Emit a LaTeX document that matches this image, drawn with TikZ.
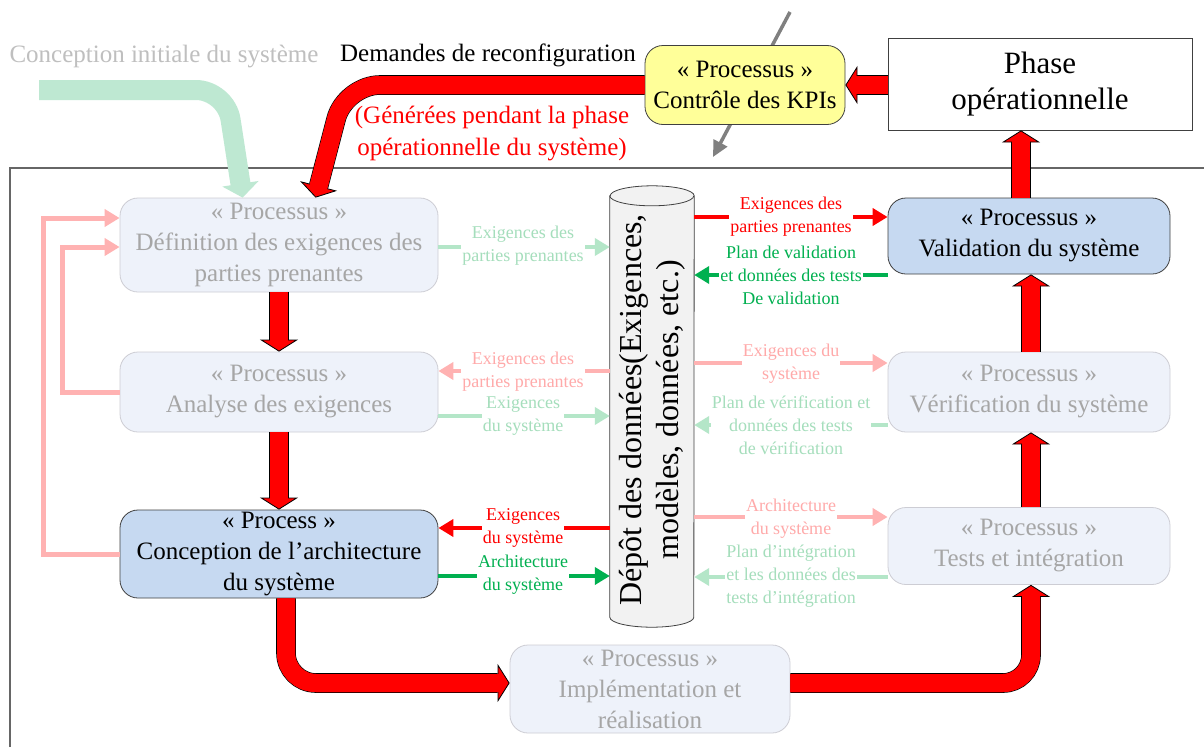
\documentclass[tikz,border=0pt]{standalone}
\usepackage{fontspec}
\setmainfont{Liberation Serif}
\usetikzlibrary{arrows.meta,calc}
\definecolor{cFadeBox}{RGB}{238,242,250}
\definecolor{cFadeBorder}{RGB}{205,205,212}
\definecolor{cFadeText}{RGB}{166,166,166}
\definecolor{cActBox}{RGB}{198,217,241}
\definecolor{cDark}{RGB}{64,64,64}
\definecolor{cFGreen}{RGB}{180,230,200}
\definecolor{cFGreenText}{RGB}{165,222,188}
\definecolor{cFRed}{RGB}{255,178,178}
\definecolor{cFRedText}{RGB}{255,170,170}
\definecolor{cGreen}{RGB}{0,176,80}
\definecolor{cKpi}{RGB}{255,255,153}
\definecolor{cCyl}{RGB}{242,242,242}
\definecolor{cBigGreen}{RGB}{190,232,210}
\definecolor{cInit}{RGB}{191,191,191}
\begin{document}
\begin{tikzpicture}[x=1pt,y=-1pt,
  box/.style={rectangle, rounded corners=18pt, align=center, inner sep=0pt,
    font=\fontsize{25}{31}\selectfont, line width=0.8pt},
  fadedbox/.style={box, fill=cFadeBox, draw=cFadeBorder, text=cFadeText},
  activebox/.style={box, fill=cActBox, draw=cDark, text=black},
  lbl/.style={align=center, font=\fontsize{18}{23}\selectfont, fill=white, inner sep=1pt},
  smallarr/.style={line width=4.5pt, -{Triangle[length=15pt,width=17pt]}},
  bigarr/.style={draw=red, line width=18pt,
    -{Triangle[length=12pt,width=38pt,fill=red,color=black,line width=0.8pt]},
    preaction={draw=black, line width=19.6pt, -, shorten >=12pt},
    postaction={draw=red, line width=18pt, -, shorten >=10pt}},
  loopline/.style={cFRed, line width=5pt, -{Triangle[length=15pt,width=17pt]}}
]
\fill[white] (0,0) rectangle (1204,747);
\path[use as bounding box] (0,0) rectangle (1204,747);

% frame
\draw[cDark!80, line width=1.2pt] (10,747) -- (10,168) -- (1204,168);

% gray arrow behind KPI box
\coordinate (gA) at (790,12);
\coordinate (gB) at (713,157);
\draw[gray, line width=3.5pt, -{Triangle[length=16pt,width=15pt]}] (gA) -- (gB);

% nodes
\node[fadedbox, minimum width=318pt, minimum height=94pt] (def) at (279,245)
  {«~Processus~»\\Définition des exigences des\\parties prenantes};
\node[fadedbox, minimum width=318pt, minimum height=80pt] (ana) at (279,392)
  {«~Processus~»\\Analyse des exigences};
\node[activebox, minimum width=318pt, minimum height=88pt] (con) at (279,554)
  {«~Process~»\\Conception de l’architecture\\du système};
\node[fadedbox, minimum width=280pt, minimum height=88pt] (imp) at (650,689)
  {«~Processus~»\\Implémentation et\\réalisation};
\node[activebox, minimum width=282pt, minimum height=76pt] (val) at (1029,236)
  {«~Processus~»\\Validation du système};
\node[fadedbox, minimum width=282pt, minimum height=80pt] (ver) at (1029,392)
  {«~Processus~»\\Vérification du système};
\node[fadedbox, minimum width=282pt, minimum height=77pt] (tst) at (1029,546)
  {«~Processus~»\\Tests et intégration};
\node[box, fill=cKpi, draw=cDark, minimum width=200pt, minimum height=79pt] (kpi) at (745,85)
  {«~Processus~»\\Contrôle des KPIs};
\node[rectangle, draw=cDark, fill=white, line width=0.8pt, minimum width=304pt,
  minimum height=92pt, align=center, inner sep=0pt, font=\fontsize{31}{36}\selectfont] (phase) at (1040,84)
  {Phase\\opérationnelle};

% top texts
\node[text=cInit, font=\fontsize{25}{30}\selectfont] (tinit) at (164,57) {Conception initiale du système};
\node[font=\fontsize{25}{30}\selectfont] (tdem) at (488,55) {Demandes de reconfiguration};
\node[text=red, align=center, font=\fontsize{25}{32}\selectfont] (tgen) at (492,134)
  {(Générées pendant la phase\\opérationnelle du système)};

% data store cylinder
\node[minimum width=84pt, minimum height=421pt, inner sep=0pt] (db) at (652,406.5) {};
\draw[fill=cCyl, draw=cDark, line width=0.8pt]
  (db.north west) -- (db.south west)
  arc[start angle=180, end angle=360, x radius=42pt, y radius=10pt]
  -- (db.north east)
  arc[start angle=0, end angle=180, x radius=42pt, y radius=10pt] -- cycle;
\draw[draw=cDark, line width=0.8pt] (db.north west)
  arc[start angle=180, end angle=360, x radius=42pt, y radius=10pt];
\node[rotate=90, align=center, font=\fontsize{32}{37}\selectfont] (dbtext) at (652,410)
  {Dépôt des données(Exigences,\\modèles, données, etc.)};

% big green faded input arrow
\coordinate (gin) at (39,90);
\draw[cBigGreen, line width=20pt, rounded corners=30pt, -{Triangle[length=14pt,width=36pt]}]
  (gin) -- (226,90) -- ($(def.north west)+(123,0)$);

% big red arrows
\draw[bigarr, rounded corners=35pt] (kpi.west) -- (345,85) -- ($(def.north west)+(196,0)$);
\draw[bigarr] ($(phase.west)+(0,1)$) -- (kpi.east);
\draw[bigarr] (def.south) -- (ana.north);
\draw[bigarr] (ana.south) -- (con.north);
\draw[bigarr, rounded corners=30pt] ($(con.south)+(7,0)$) |- ($(imp.west)+(0,-6)$);
\draw[bigarr, rounded corners=28pt] ($(imp.east)+(0,-6)$) -| ($(tst.south)+(2,0)$);
\draw[bigarr] ($(tst.north)+(2,0)$) -- ($(ver.south)+(2,0)$);
\draw[bigarr] ($(ver.north)+(2,0)$) -- ($(val.south)+(2,0)$);
\draw[bigarr] ($(val.north)+(-8,0)$) -- ($(phase.south)+(-19,0)$);

% loop arrows (faded)
\draw[loopline] (con.west) -- ++(-76,0) |- ($(def.west)+(0,-27)$);
\draw[loopline] (ana.west) -- ++(-57,0) |- ($(def.west)+(0,2)$);

% small arrows left
\draw[smallarr, cFGreen] (def.east |- 0,247) -- (db.west |- 0,247);
\draw[smallarr, cFRed] (db.west |- 0,371) -- (ana.east |- 0,371);
\draw[smallarr, cFGreen] (ana.east |- 0,416) -- (db.west |- 0,416);
\draw[smallarr, red] (db.west |- 0,528) -- (con.east |- 0,528);
\draw[smallarr, cGreen] (con.east |- 0,576) -- (db.west |- 0,576);
% small arrows right
\draw[smallarr, red] (db.east |- 0,217) -- (val.west |- 0,217);
\draw[smallarr, cGreen] (val.west |- 0,275) -- (db.east |- 0,275);
\draw[smallarr, cFRed] (db.east |- 0,363) -- (ver.west |- 0,363);
\draw[smallarr, cFGreen] (ver.west |- 0,425) -- (db.east |- 0,425);
\draw[smallarr, cFRed] (db.east |- 0,517) -- (tst.west |- 0,517);
\draw[smallarr, cFGreen] (tst.west |- 0,577) -- (db.east |- 0,577);

% labels
\node[lbl, text=cFGreenText] (l1) at (523,245.5) {Exigences des\\parties prenantes};
\node[lbl, text=cFRedText] (l2) at (523,371.5) {Exigences des\\parties prenantes};
\node[lbl, text=cFGreenText] (l3) at (523,415.5) {Exigences\\du système};
\node[lbl, text=red] (l4) at (523,527.5) {Exigences\\du système};
\node[lbl, text=cGreen] (l5) at (523,575) {Architecture\\du système};
\node[lbl, text=red] (r1) at (791,216.5) {Exigences des\\parties prenantes};
\node[lbl, text=cGreen] (r2) at (791,275) {Plan de validation\\et données des tests\\De validation};
\node[lbl, text=cFRedText] (r3) at (791,363.5) {Exigences du\\système};
\node[lbl, text=cFGreenText] (r4) at (791,425) {Plan de vérification et\\données des tests\\de vérification};
\node[lbl, text=cFRedText] (r5) at (791,518.5) {Architecture\\du système};
\node[lbl, text=cFGreenText] (r6) at (791,576.5) {Plan d’intégration\\et les données des\\tests d’intégration};
\end{tikzpicture}
\end{document}
